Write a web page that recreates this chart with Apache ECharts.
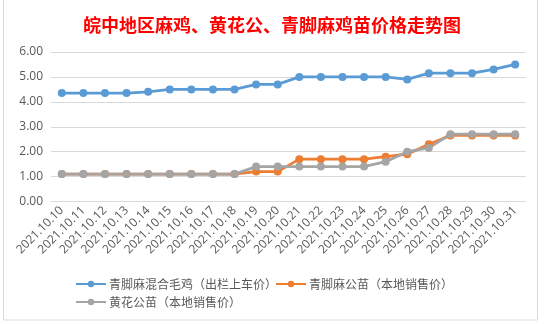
<!DOCTYPE html>
<html><head><meta charset="utf-8">
<script src="https://cdn.jsdelivr.net/npm/echarts@6/dist/echarts.min.js"></script>
<style>html,body{margin:0;padding:0;background:#fff}#c{width:544px;height:324px}</style>
</head><body><div id="c"></div>
<script>
const title = '皖中地区麻鸡、黄花公、青脚麻鸡苗价格走势图';
const categories = ['2021.10.10','2021.10.11','2021.10.12','2021.10.13','2021.10.14','2021.10.15','2021.10.16','2021.10.17','2021.10.18','2021.10.19','2021.10.20','2021.10.21','2021.10.22','2021.10.23','2021.10.24','2021.10.25','2021.10.26','2021.10.27','2021.10.28','2021.10.29','2021.10.30','2021.10.31'];
const seriesNames = ['青脚麻混合毛鸡（出栏上车价）','青脚麻公苗（本地销售价）','黄花公苗（本地销售价）'];
const blueValues = [4.35,4.35,4.35,4.35,4.40,4.50,4.50,4.50,4.50,4.70,4.70,5.00,5.00,5.00,5.00,5.00,4.90,5.15,5.15,5.15,5.30,5.50];
const orangeValues = [1.10,1.10,1.10,1.10,1.10,1.10,1.10,1.10,1.10,1.20,1.20,1.70,1.70,1.70,1.70,1.80,1.90,2.30,2.65,2.65,2.65,2.65];
const grayValues = [1.10,1.10,1.10,1.10,1.10,1.10,1.10,1.10,1.10,1.40,1.40,1.40,1.40,1.40,1.40,1.60,2.00,2.15,2.70,2.70,2.70,2.70];
const yTicks = [0,1,2,3,4,5,6];
const colors = ['#5B9BD5','#ED7D31','#A5A5A5'];

const chart = echarts.init(document.getElementById('c'), null, {renderer:'canvas'});
const mk = (name, data, color) => ({
  name, type:'line', data, symbol:'circle', symbolSize:8,
  itemStyle:{color}, lineStyle:{color, width:2.75}, animation:false,
  emphasis:{disabled:true}
});
chart.setOption({
  animation:false,
  textStyle:{fontFamily:'"Noto Sans CJK SC", sans-serif'},
  graphic:[{type:'rect', shape:{x:3.5,y:-1,width:534,height:321}, style:{fill:'none', stroke:'#D9D9D9', lineWidth:1}, z:-1}],
  title:{text:title, left:'center', top:11, textStyle:{color:'#FF0000', fontSize:18, fontWeight:'bold', fontFamily:'"Noto Sans CJK SC", serif'}},
  legend:[
    {data:[seriesNames[0], seriesNames[1]], left:70, top:273, itemWidth:30, itemHeight:8, itemGap:-2,
     textStyle:{color:'#595959', fontSize:12, padding:[0,0,0,-2]}},
    {data:[seriesNames[2]], left:70, top:291, itemWidth:30, itemHeight:8,
     textStyle:{color:'#595959', fontSize:12, padding:[0,0,0,-2]}}
  ],
  grid:{left:51, right:18, top:52, height:149.5, containLabel:false},
  xAxis:{type:'category', data:categories, boundaryGap:true,
    axisLine:{show:true, lineStyle:{color:'#D9D9D9'}}, axisTick:{show:false},
    axisLabel:{rotate:45, interval:0, color:'#595959', fontSize:12, margin:7, fontFamily:'"Open Sans", sans-serif'}},
  yAxis:{type:'value', min:yTicks[0], max:yTicks[yTicks.length-1], interval:1,
    axisLine:{show:false}, axisTick:{show:false},
    splitLine:{lineStyle:{color:'#D9D9D9'}},
    axisLabel:{color:'#595959', fontSize:12, margin:8, formatter:v=>v.toFixed(2), fontFamily:'"Open Sans", sans-serif'}},
  series:[mk(seriesNames[0], blueValues, colors[0]), mk(seriesNames[1], orangeValues, colors[1]), mk(seriesNames[2], grayValues, colors[2])]
});
</script></body></html>
